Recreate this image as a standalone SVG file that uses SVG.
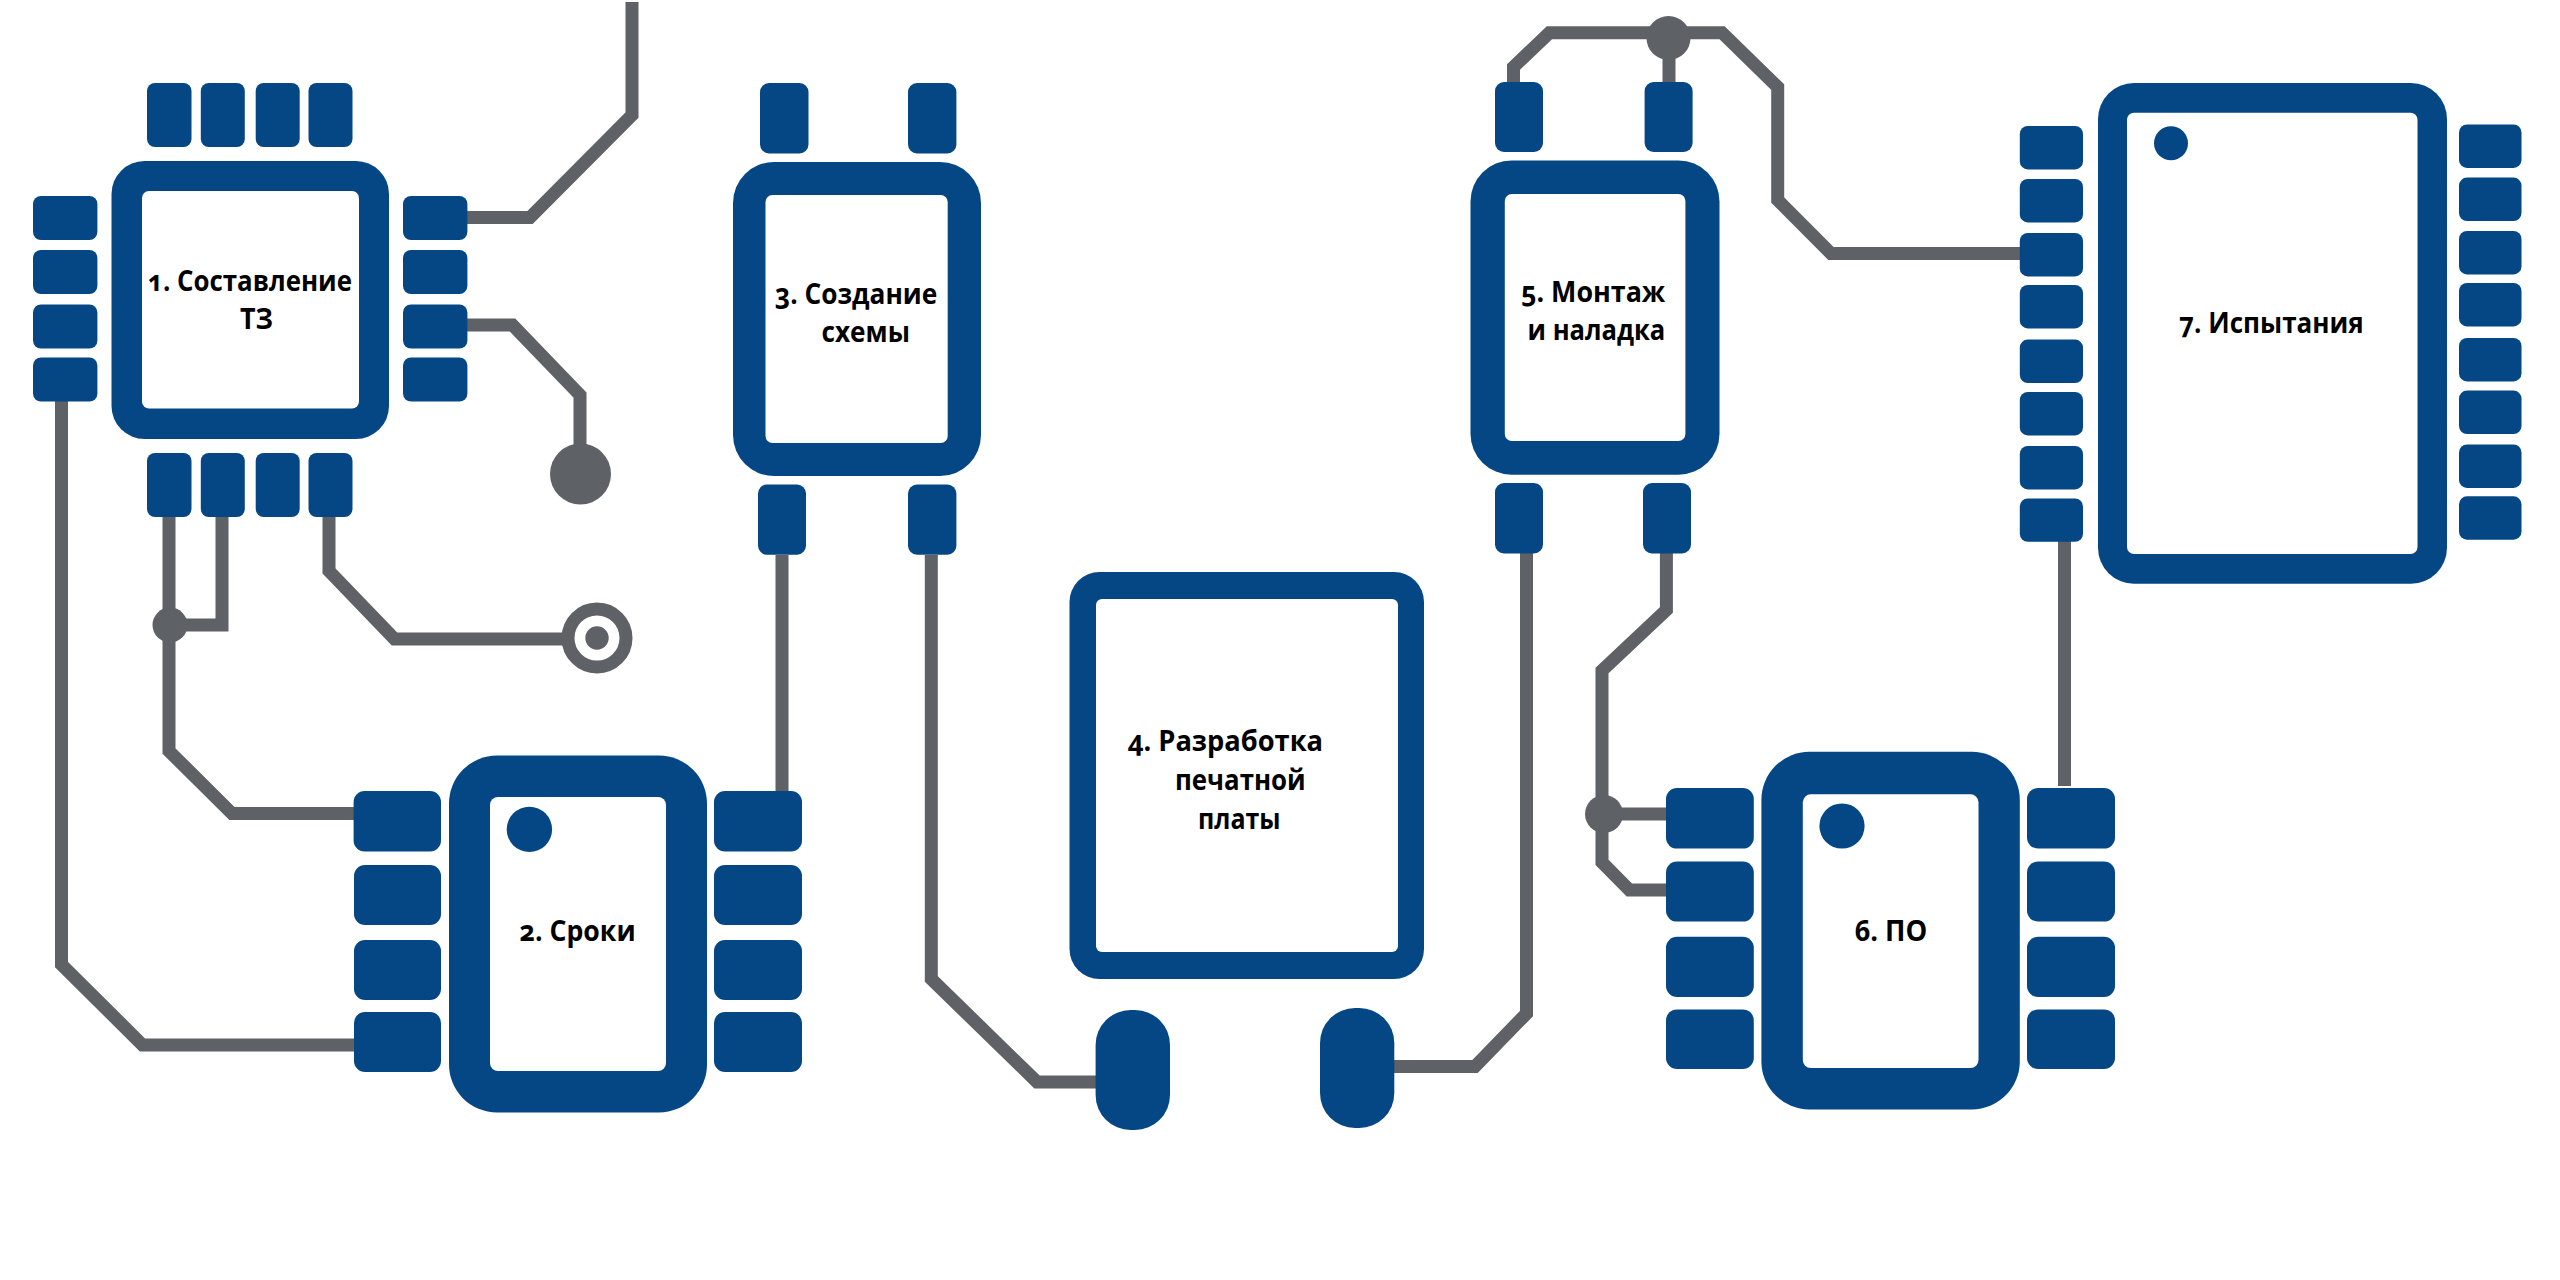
<svg xmlns="http://www.w3.org/2000/svg" width="2560" height="1280" viewBox="0 0 2560 1280">
<style>
.b{fill:#054785}
.w{fill:#fff}
.d{fill:#5e6166}
.wire{fill:none;stroke:#5e6166;stroke-width:13;stroke-linejoin:miter}
.t{font-family:"Open Sans","Noto Sans","Liberation Sans",sans-serif;font-weight:700;font-size:28px;fill:#000;font-variant-numeric:oldstyle-nums}
</style>
<rect width="2560" height="1280" fill="#fff"/>
<g id="connectors">
<polyline class="wire" points="632,2 632,115 530,217.5 467,217.5"/>
<polyline class="wire" points="467,325 512.5,325 580,395 580,450"/>
<polyline class="wire" points="61.5,401 61.5,964.5 142.5,1045 354,1045"/>
<polyline class="wire" points="169,517 169,751 232,813.5 354,813.5"/>
<polyline class="wire" points="222,517 222,625 170,625"/>
<polyline class="wire" points="329,517 329,571 394.5,639 570,639"/>
<polyline class="wire" points="782,555 782,795"/>
<polyline class="wire" points="931.3,555 931.3,979 1037,1082 1100,1082"/>
<polyline class="wire" points="1394,1066.5 1475,1066.5 1526.5,1013.5 1526.5,553"/>
<polyline class="wire" points="1513.5,85 1513.5,67 1549.4,32.7 1722,32.7 1777.7,87 1777.7,200 1831,253.5 2024,253.5"/>
<polyline class="wire" points="1669,38 1669,85"/>
<polyline class="wire" points="1666.4,553 1666.4,610 1602,670.6 1602,862.4 1629.4,890 1670,890"/>
<polyline class="wire" points="1604,814 1670,814"/>
<polyline class="wire" points="2064.5,541 2064.5,786"/>
<circle class="d" cx="580.5" cy="474" r="30.5"/>
<circle class="d" cx="170" cy="625" r="17.5"/>
<circle cx="597" cy="638" r="29" fill="#fff" stroke="#5e6166" stroke-width="13"/>
<circle class="d" cx="597" cy="638" r="11.7"/>
<circle class="d" cx="1668.5" cy="38" r="22"/>
<circle class="d" cx="1604" cy="814" r="19"/>
</g>
<g id="node1">
<rect class="b" x="111.5" y="161" width="277.5" height="278" rx="33"/>
<rect class="w" x="142" y="191" width="217" height="217.5" rx="7"/>
<rect class="b" x="147" y="83" width="44.5" height="64" rx="8"/>
<rect class="b" x="200.8" y="83" width="44" height="64" rx="8"/>
<rect class="b" x="255.7" y="83" width="44" height="64" rx="8"/>
<rect class="b" x="308.5" y="83" width="44" height="64" rx="8"/>
<rect class="b" x="147" y="453" width="44.5" height="64" rx="8"/>
<rect class="b" x="200.8" y="453" width="44" height="64" rx="8"/>
<rect class="b" x="255.7" y="453" width="44" height="64" rx="8"/>
<rect class="b" x="308.5" y="453" width="44" height="64" rx="8"/>
<rect class="b" x="33" y="196" width="64.4" height="44" rx="8"/>
<rect class="b" x="33" y="250" width="64.4" height="44" rx="8"/>
<rect class="b" x="33" y="304.5" width="64.4" height="44" rx="8"/>
<rect class="b" x="33" y="357.5" width="64.4" height="44" rx="8"/>
<rect class="b" x="403" y="196" width="64.4" height="44" rx="8"/>
<rect class="b" x="403" y="250" width="64.4" height="44" rx="8"/>
<rect class="b" x="403" y="304.5" width="64.4" height="44" rx="8"/>
<rect class="b" x="403" y="357.5" width="64.4" height="44" rx="8"/>
<text class="t" x="148" y="290.6" textLength="204" lengthAdjust="spacingAndGlyphs">1. Составление</text>
<text class="t" x="240" y="329" textLength="33" lengthAdjust="spacingAndGlyphs">ТЗ</text>
</g>
<g id="node2">
<rect class="b" x="449" y="755.5" width="258" height="357" rx="48"/>
<rect class="w" x="490" y="797" width="176" height="274" rx="8"/>
<circle class="b" cx="529.4" cy="829.4" r="22.7"/>
<rect class="b" x="353.6" y="791" width="87.4" height="60.4" rx="11"/>
<rect class="b" x="354" y="865" width="87" height="60" rx="11"/>
<rect class="b" x="354" y="940" width="87" height="60" rx="11"/>
<rect class="b" x="354" y="1012" width="87" height="60" rx="11"/>
<rect class="b" x="714" y="791" width="88" height="60.4" rx="11"/>
<rect class="b" x="714" y="865" width="88" height="60" rx="11"/>
<rect class="b" x="714" y="940" width="88" height="60" rx="11"/>
<rect class="b" x="714" y="1012" width="88" height="60" rx="11"/>
<text class="t" x="519.6" y="941" textLength="116" lengthAdjust="spacingAndGlyphs">2. Сроки</text>
</g>
<g id="node3">
<rect class="b" x="733" y="162" width="248" height="314" rx="41"/>
<rect class="w" x="765.5" y="195" width="182.2" height="248" rx="7"/>
<rect class="b" x="760" y="83" width="48.5" height="70.5" rx="9"/>
<rect class="b" x="908" y="83" width="48.4" height="70.5" rx="9"/>
<rect class="b" x="758" y="484.5" width="48" height="70.2" rx="9"/>
<rect class="b" x="908" y="484.5" width="48.4" height="70.2" rx="9"/>
<text class="t" x="775" y="304" textLength="162.3" lengthAdjust="spacingAndGlyphs">3. Создание</text>
<text class="t" x="821.5" y="342" textLength="88.5" lengthAdjust="spacingAndGlyphs">схемы</text>
</g>
<g id="node4">
<rect class="b" x="1069.5" y="572" width="354.5" height="407" rx="30"/>
<rect class="w" x="1096" y="599" width="302" height="353" rx="6"/>
<rect class="b" x="1095.6" y="1010" width="74.4" height="120" rx="35"/>
<rect class="b" x="1320" y="1008" width="74.3" height="120" rx="35"/>
<text class="t" x="1127.7" y="751" textLength="195.3" lengthAdjust="spacingAndGlyphs">4. Разработка</text>
<text class="t" x="1175" y="790" textLength="130.7" lengthAdjust="spacingAndGlyphs">печатной</text>
<text class="t" x="1198" y="828.6" textLength="82.6" lengthAdjust="spacingAndGlyphs">платы</text>
</g>
<g id="node5">
<rect class="b" x="1470.5" y="160.4" width="249" height="314.3" rx="41"/>
<rect class="w" x="1504.8" y="194" width="180.6" height="247" rx="7"/>
<rect class="b" x="1495" y="82" width="48" height="70" rx="9"/>
<rect class="b" x="1644.6" y="82" width="48" height="70" rx="9"/>
<rect class="b" x="1495" y="483" width="48" height="70.5" rx="9"/>
<rect class="b" x="1643" y="483" width="48" height="70.5" rx="9"/>
<text class="t" x="1521" y="302.4" textLength="144.3" lengthAdjust="spacingAndGlyphs">5. Монтаж</text>
<text class="t" x="1527.6" y="340.4" textLength="137.7" lengthAdjust="spacingAndGlyphs">и наладка</text>
</g>
<g id="node6">
<rect class="b" x="1761.4" y="751.8" width="258.4" height="357.6" rx="48"/>
<rect class="w" x="1802.8" y="794.3" width="175.7" height="273.7" rx="8"/>
<circle class="b" cx="1842" cy="826" r="22.6"/>
<rect class="b" x="1666" y="788" width="87.8" height="60.6" rx="11"/>
<rect class="b" x="1666" y="861.6" width="87.8" height="60" rx="11"/>
<rect class="b" x="1666" y="936.7" width="87.8" height="60.3" rx="11"/>
<rect class="b" x="1666" y="1009.4" width="87.8" height="59.6" rx="11"/>
<rect class="b" x="2027" y="788" width="88" height="60.6" rx="11"/>
<rect class="b" x="2027" y="861.6" width="88" height="60" rx="11"/>
<rect class="b" x="2027" y="936.7" width="88" height="60.3" rx="11"/>
<rect class="b" x="2027" y="1009.4" width="88" height="59.6" rx="11"/>
<text class="t" x="1854.4" y="941" textLength="72.9" lengthAdjust="spacingAndGlyphs">6. ПО</text>
</g>
<g id="node7">
<rect class="b" x="2098" y="83" width="349" height="500.7" rx="36"/>
<rect class="w" x="2127" y="112.7" width="290.5" height="441.3" rx="7"/>
<circle class="b" cx="2171" cy="143.3" r="17"/>
<rect class="b" x="2019.8" y="126" width="63.2" height="43.4" rx="8"/>
<rect class="b" x="2019.8" y="179" width="63.2" height="43.4" rx="8"/>
<rect class="b" x="2019.8" y="233" width="63.2" height="43.4" rx="8"/>
<rect class="b" x="2019.8" y="285" width="63.2" height="43.4" rx="8"/>
<rect class="b" x="2019.8" y="339.6" width="63.2" height="43.4" rx="8"/>
<rect class="b" x="2019.8" y="392" width="63.2" height="43.4" rx="8"/>
<rect class="b" x="2019.8" y="446" width="63.2" height="43.4" rx="8"/>
<rect class="b" x="2019.8" y="498.4" width="63.2" height="43.4" rx="8"/>
<rect class="b" x="2459" y="124.5" width="62.5" height="43.4" rx="8"/>
<rect class="b" x="2459" y="177.6" width="62.5" height="43.4" rx="8"/>
<rect class="b" x="2459" y="231" width="62.5" height="43.4" rx="8"/>
<rect class="b" x="2459" y="283" width="62.5" height="43.4" rx="8"/>
<rect class="b" x="2459" y="338" width="62.5" height="43.4" rx="8"/>
<rect class="b" x="2459" y="390.6" width="62.5" height="43.4" rx="8"/>
<rect class="b" x="2459" y="444.5" width="62.5" height="43.4" rx="8"/>
<rect class="b" x="2459" y="496.3" width="62.5" height="43.4" rx="8"/>
<text class="t" x="2179" y="333" textLength="184.7" lengthAdjust="spacingAndGlyphs">7. Испытания</text>
</g>
</svg>
